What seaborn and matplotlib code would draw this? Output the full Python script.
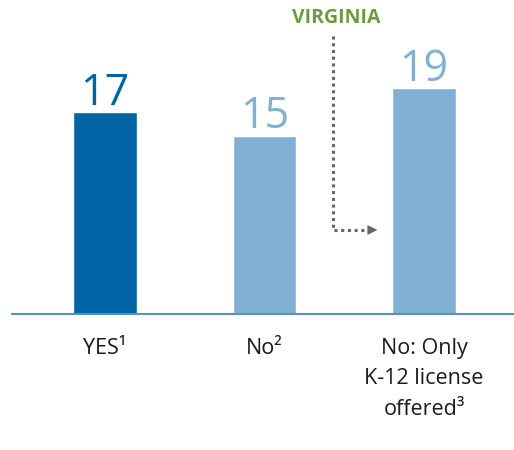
import matplotlib
matplotlib.use("Agg")
import matplotlib.pyplot as plt
import seaborn as sns
import pandas as pd

# data
categories = ["YES¹", "No²", "No: Only\nK-12 license\noffered³"]
values = [17, 15, 19]
bar_colors = ["#0064a5", "#80b1d3", "#80b1d3"]

sns.set_theme(style="white")
plt.rcParams["font.family"] = ["Open Sans", "DejaVu Sans"]

df = pd.DataFrame({"category": categories, "value": values})

fig = plt.figure(figsize=(5.14, 4.5), dpi=100)
ax = fig.add_axes([12 / 514, 0.302, 502 / 514, 0.698])

sns.barplot(data=df, x="category", y="value", hue="category",
            palette=bar_colors, width=0.40, saturation=1, legend=False, ax=ax)

ax.set_xlim(-0.583, 2.564)
ax.set_ylim(0, 26.4)

# value labels above bars
for i, (v, c) in enumerate(zip(values, bar_colors)):
    ax.text(i, v + 0.6, str(v), ha="center", va="baseline", fontsize=31,
            color=c)

# axes styling
for side in ["top", "right", "left"]:
    ax.spines[side].set_visible(False)
ax.spines["bottom"].set_color("#5b8fc0")
ax.spines["bottom"].set_linewidth(1.5)
ax.set_yticks([])
ax.set_xlabel("")
ax.set_ylabel("")
ax.tick_params(axis="x", length=0, pad=17)
ax.set_xticks(range(len(categories)))
ax.set_xticklabels(categories, fontsize=15.5, color="#1a1a1a", va="top",
                   linespacing=1.6)

# VIRGINIA annotation with dotted elbow arrow
ax.text(1.45, 24.9, "VIRGINIA", ha="center", va="center", fontsize=14,
        fontweight="bold", color="#6a9b3c", clip_on=False)
ax.plot([1.43, 1.43, 1.66], [23.4, 7.07, 7.07], linestyle=(0, (1, 1.2)),
        color="#666666", linewidth=2.2, clip_on=False)
ax.annotate("", xy=(1.725, 7.07), xytext=(1.65, 7.07),
            arrowprops=dict(arrowstyle="-|>", mutation_scale=18,
                            color="#666666", lw=0))

fig.savefig("out.png", dpi=100)
